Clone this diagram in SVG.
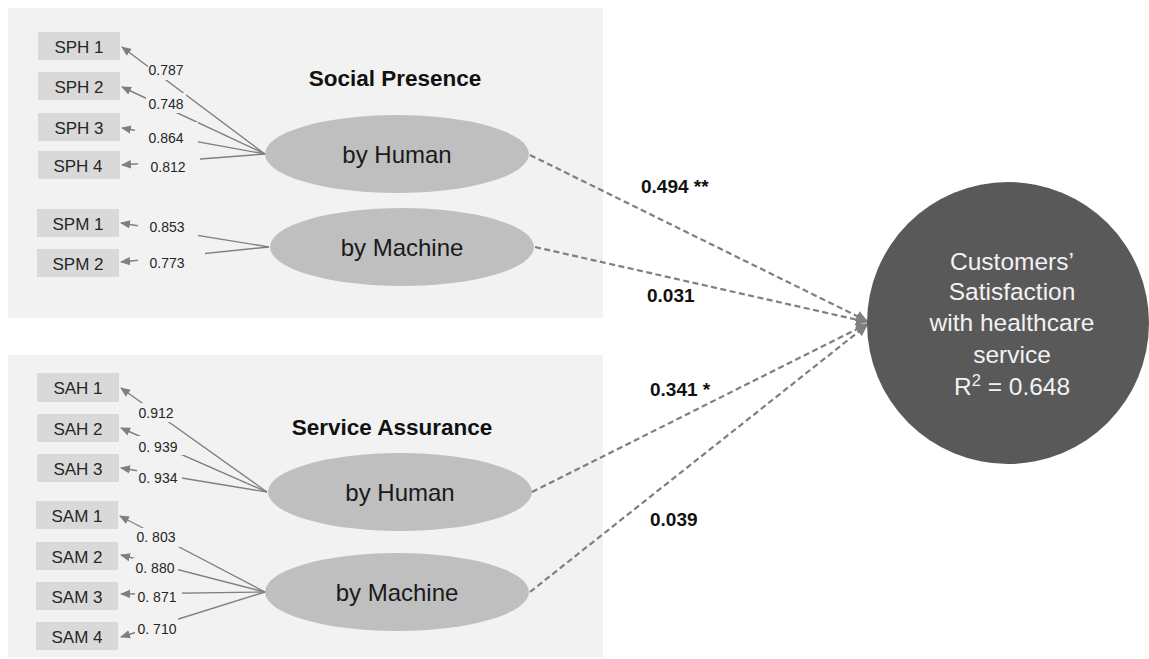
<svg xmlns="http://www.w3.org/2000/svg" width="1149" height="659" viewBox="0 0 1149 659">
  <style>
    .panel { fill: #f2f2f2; }
    .box { fill: #d9d9d9; }
    .lv { fill: #bfbfbf; }
    .boxtxt { font-family: "Liberation Sans", Arial, sans-serif; font-size: 17px; fill: #262626; text-anchor: middle; }
    .lvtxt { font-family: "Liberation Sans", Arial, sans-serif; font-size: 24px; fill: #1a1a1a; text-anchor: middle; }
    .title { font-family: "Liberation Sans", Arial, sans-serif; font-size: 22.5px; font-weight: bold; fill: #111111; text-anchor: middle; }
    .load { font-family: "Liberation Sans", Arial, sans-serif; font-size: 14px; fill: #262626; text-anchor: middle; }
    .lbg { fill: #f2f2f2; }
    .ind { stroke: #808080; stroke-width: 1.4; fill: none; }
    .path { stroke: #7f7f7f; stroke-width: 2.2; stroke-dasharray: 6 3.5; fill: none; }
    .coef { font-family: "Liberation Sans", Arial, sans-serif; font-size: 19px; font-weight: bold; fill: #111111; }
    .dvtxt { font-family: "Liberation Sans", Arial, sans-serif; font-size: 24.5px; fill: #f2f2f2; text-anchor: middle; }
  </style>
  <defs>
    <marker id="ah" markerUnits="userSpaceOnUse" markerWidth="10" markerHeight="10" viewBox="0 0 10 10" refX="9" refY="5" orient="auto">
      <path d="M0,0.8 L10,5 L0,9.2 z" fill="#7f7f7f"/>
    </marker>
    <marker id="ahb" markerUnits="userSpaceOnUse" markerWidth="12" markerHeight="12" viewBox="0 0 12 12" refX="11" refY="6" orient="auto">
      <path d="M0,0.5 L12,6 L0,11.5 z" fill="#7f7f7f"/>
    </marker>
  </defs>

  <rect width="1149" height="659" fill="#ffffff"/>

  <!-- construct panels -->
  <rect id="panel-sp" class="panel" x="8" y="8" width="595" height="310"/>
  <rect id="panel-sa" class="panel" x="8" y="355" width="595" height="302"/>

  <!-- indicator (loading) lines, drawn under the label backgrounds -->
  <g id="indicator-lines">
    <line class="ind" x1="265" y1="154" x2="122" y2="47" marker-end="url(#ah)"/>
    <line class="ind" x1="265" y1="154" x2="122" y2="87" marker-end="url(#ah)"/>
    <line class="ind" x1="265" y1="154" x2="122" y2="128" marker-end="url(#ah)"/>
    <line class="ind" x1="265" y1="154" x2="122" y2="165" marker-end="url(#ah)"/>
    <line class="ind" x1="269" y1="247" x2="121" y2="223" marker-end="url(#ah)"/>
    <line class="ind" x1="269" y1="247" x2="121" y2="262" marker-end="url(#ah)"/>
    <line class="ind" x1="267" y1="492" x2="121" y2="388" marker-end="url(#ah)"/>
    <line class="ind" x1="267" y1="492" x2="121" y2="428" marker-end="url(#ah)"/>
    <line class="ind" x1="267" y1="492" x2="121" y2="468" marker-end="url(#ah)"/>
    <line class="ind" x1="265" y1="592" x2="120" y2="516" marker-end="url(#ah)"/>
    <line class="ind" x1="265" y1="592" x2="121" y2="555" marker-end="url(#ah)"/>
    <line class="ind" x1="265" y1="592" x2="121" y2="594" marker-end="url(#ah)"/>
    <line class="ind" x1="265" y1="592" x2="121" y2="637" marker-end="url(#ah)"/>
  </g>

  <!-- loading labels (text boxes with panel-coloured fill) -->
  <g id="loadings">
    <rect class="lbg" x="148" y="62" width="38" height="18"/>
    <text class="load" x="166" y="75">0.787</text>
    <rect class="lbg" x="146" y="93" width="40" height="20"/>
    <text class="load" x="166" y="109">0.748</text>
    <rect class="lbg" x="135" y="122" width="63" height="26"/>
    <text class="load" x="166" y="143">0.864</text>
    <rect class="lbg" x="138" y="150" width="62" height="28"/>
    <text class="load" x="168" y="172">0.812</text>
    <rect class="lbg" x="138" y="214" width="60" height="23"/>
    <text class="load" x="167" y="232">0.853</text>
    <rect class="lbg" x="138" y="252" width="67" height="23"/>
    <text class="load" x="167" y="268">0.773</text>

    <rect class="lbg" x="136" y="403" width="40" height="19"/>
    <text class="load" x="156" y="418">0.912</text>
    <rect class="lbg" x="136" y="436" width="48" height="19"/>
    <text class="load" x="158" y="452">0. 939</text>
    <rect class="lbg" x="137" y="466" width="45" height="24"/>
    <text class="load" x="158" y="483">0. 934</text>
    <rect class="lbg" x="134" y="528" width="46" height="19"/>
    <text class="load" x="156" y="542">0. 803</text>
    <rect class="lbg" x="133" y="558" width="45" height="22"/>
    <text class="load" x="155" y="573">0. 880</text>
    <rect class="lbg" x="135" y="586" width="47" height="20"/>
    <text class="load" x="157" y="602">0. 871</text>
    <rect class="lbg" x="135" y="617" width="43" height="23"/>
    <text class="load" x="157" y="634">0. 710</text>
  </g>

  <!-- indicator boxes -->
  <g id="SPH1"><rect class="box" x="38" y="32" width="82" height="28"/><text class="boxtxt" x="79" y="53">SPH 1</text></g>
  <g id="SPH2"><rect class="box" x="38" y="72" width="82" height="28"/><text class="boxtxt" x="79" y="93">SPH 2</text></g>
  <g id="SPH3"><rect class="box" x="38" y="113" width="82" height="28"/><text class="boxtxt" x="79" y="134">SPH 3</text></g>
  <g id="SPH4"><rect class="box" x="38" y="151" width="82" height="28"/><text class="boxtxt" x="78" y="172">SPH 4</text></g>
  <g id="SPM1"><rect class="box" x="37" y="209" width="82" height="28"/><text class="boxtxt" x="78" y="230">SPM 1</text></g>
  <g id="SPM2"><rect class="box" x="37" y="249" width="82" height="28"/><text class="boxtxt" x="78" y="270">SPM 2</text></g>

  <g id="SAH1"><rect class="box" x="37" y="373" width="82" height="29"/><text class="boxtxt" x="78" y="394">SAH 1</text></g>
  <g id="SAH2"><rect class="box" x="37" y="414" width="82" height="28"/><text class="boxtxt" x="78" y="435">SAH 2</text></g>
  <g id="SAH3"><rect class="box" x="37" y="454" width="82" height="28"/><text class="boxtxt" x="78" y="475">SAH 3</text></g>
  <g id="SAM1"><rect class="box" x="36" y="501" width="82" height="28"/><text class="boxtxt" x="77" y="522">SAM 1</text></g>
  <g id="SAM2"><rect class="box" x="36" y="542" width="82" height="28"/><text class="boxtxt" x="77" y="563">SAM 2</text></g>
  <g id="SAM3"><rect class="box" x="36" y="582" width="82" height="28"/><text class="boxtxt" x="77" y="603">SAM 3</text></g>
  <g id="SAM4"><rect class="box" x="36" y="622" width="82" height="28"/><text class="boxtxt" x="77" y="643">SAM 4</text></g>

  <!-- construct titles -->
  <text class="title" x="395" y="86">Social Presence</text>
  <text class="title" x="392" y="435">Service Assurance</text>

  <!-- latent variables -->
  <g id="SP-human"><ellipse class="lv" cx="397" cy="154" rx="132" ry="39"/><text class="lvtxt" x="397" y="163">by Human</text></g>
  <g id="SP-machine"><ellipse class="lv" cx="402" cy="247" rx="132" ry="39"/><text class="lvtxt" x="402" y="256">by Machine</text></g>
  <g id="SA-human"><ellipse class="lv" cx="400" cy="492" rx="132" ry="39"/><text class="lvtxt" x="400" y="501">by Human</text></g>
  <g id="SA-machine"><ellipse class="lv" cx="397" cy="592" rx="132" ry="39"/><text class="lvtxt" x="397" y="601">by Machine</text></g>

  <!-- structural paths -->
  <g id="paths">
    <line class="path" x1="530" y1="155" x2="867" y2="321" marker-end="url(#ahb)"/>
    <line class="path" x1="535" y1="247" x2="867" y2="322" marker-end="url(#ahb)"/>
    <line class="path" x1="532" y1="492" x2="867" y2="324" marker-end="url(#ahb)"/>
    <line class="path" x1="530" y1="592" x2="867" y2="325" marker-end="url(#ahb)"/>
    <text class="coef" x="641" y="193">0.494 **</text>
    <text class="coef" x="647" y="302">0.031</text>
    <text class="coef" x="650" y="396">0.341 *</text>
    <text class="coef" x="650" y="526">0.039</text>
  </g>

  <!-- dependent variable -->
  <g id="satisfaction">
    <circle cx="1008" cy="323" r="141" fill="#595959"/>
    <text class="dvtxt" x="1012" y="270">Customers’</text>
    <text class="dvtxt" x="1012" y="300">Satisfaction</text>
    <text class="dvtxt" x="1012" y="331">with healthcare</text>
    <text class="dvtxt" x="1012" y="363">service</text>
    <text class="dvtxt" x="1012" y="395">R<tspan font-size="16.5" dy="-9">2</tspan><tspan dy="9"> = 0.648</tspan></text>
  </g>
</svg>
